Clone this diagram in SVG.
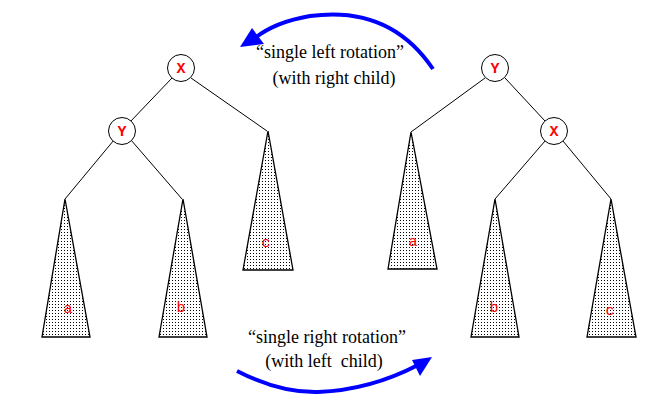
<svg xmlns="http://www.w3.org/2000/svg" width="649" height="400" viewBox="0 0 649 400">
<style>
.edge{stroke:#000;stroke-width:1;fill:none}
.node{fill:#fff;stroke:#000;stroke-width:1}
.tri{fill:url(#dots);stroke:#000;stroke-width:1.3}
.nl{font-family:'Liberation Mono',monospace;font-size:15px;fill:#f00;text-anchor:middle;font-weight:bold}
.tl{font-family:'Liberation Mono',monospace;font-size:15px;fill:#f00;text-anchor:middle}
.cap{font-family:'Liberation Serif',serif;font-size:18px;fill:#000;text-anchor:middle;white-space:pre}
.arc{stroke:#0000ff;stroke-width:4;fill:none}
</style>
<defs>
<pattern id="dots" width="3" height="3" patternUnits="userSpaceOnUse">
<rect width="3" height="3" fill="#fff"/>
<rect x="1" y="1" width="1" height="1" fill="#000"/>
</pattern>
</defs>
<rect width="649" height="400" fill="#fff"/>
<g id="connectors">
<line class="edge" x1="172" y1="78" x2="130" y2="122"/>
<line class="edge" x1="191" y1="78" x2="267" y2="131"/>
<line class="edge" x1="114" y1="140" x2="65" y2="199"/>
<line class="edge" x1="131" y1="140" x2="182" y2="199"/>
<line class="edge" x1="485" y1="78" x2="411" y2="132"/>
<line class="edge" x1="505" y1="78" x2="545" y2="121"/>
<line class="edge" x1="545" y1="141" x2="495" y2="199"/>
<line class="edge" x1="563" y1="141" x2="611" y2="199"/>
<path class="arc" d="M433,69 Q390,5 310,16 Q275,22 255,38"/>
<polygon points="240,47 252,28 264,44" fill="#0000ff"/>
<path class="arc" d="M237,371 Q280,393 318,392 Q370,390 418,365"/>
<polygon points="432,357 412,360 420,376" fill="#0000ff"/>
</g>
<g id="left-X"><circle class="node" cx="181" cy="68" r="13.5"/><text class="nl" x="181" y="73">X</text></g>
<g id="left-Y"><circle class="node" cx="122" cy="131" r="13.5"/><text class="nl" x="122" y="136">Y</text></g>
<g id="left-a"><polygon class="tri" points="65,199 42,337 90,337"/><text class="tl" x="68" y="313">a</text></g>
<g id="left-b"><polygon class="tri" points="183,199 159,337 207,337"/><text class="tl" x="181" y="312">b</text></g>
<g id="left-c"><polygon class="tri" points="268,131 243,270 293,270"/><text class="tl" x="266" y="247">c</text></g>
<g id="right-Y"><circle class="node" cx="495" cy="68" r="13.5"/><text class="nl" x="495" y="73">Y</text></g>
<g id="right-X"><circle class="node" cx="554" cy="131" r="13.5"/><text class="nl" x="554" y="136">X</text></g>
<g id="right-a"><polygon class="tri" points="411,132 388,269 437,269"/><text class="tl" x="413" y="246">a</text></g>
<g id="right-b"><polygon class="tri" points="495,199 471,337 519,337"/><text class="tl" x="494" y="312">b</text></g>
<g id="right-c"><polygon class="tri" points="611,199 587,337 636,337"/><text class="tl" x="610" y="315">c</text></g>
<g id="caption-top">
<text class="cap" x="330" y="58">“single left rotation”</text>
<text class="cap" x="334" y="84">(with right child)</text>
</g>
<g id="caption-bottom">
<text class="cap" x="327" y="343">“single right rotation”</text>
<text class="cap" x="324" y="367" xml:space="preserve">(with left  child)</text>
</g>
</svg>
